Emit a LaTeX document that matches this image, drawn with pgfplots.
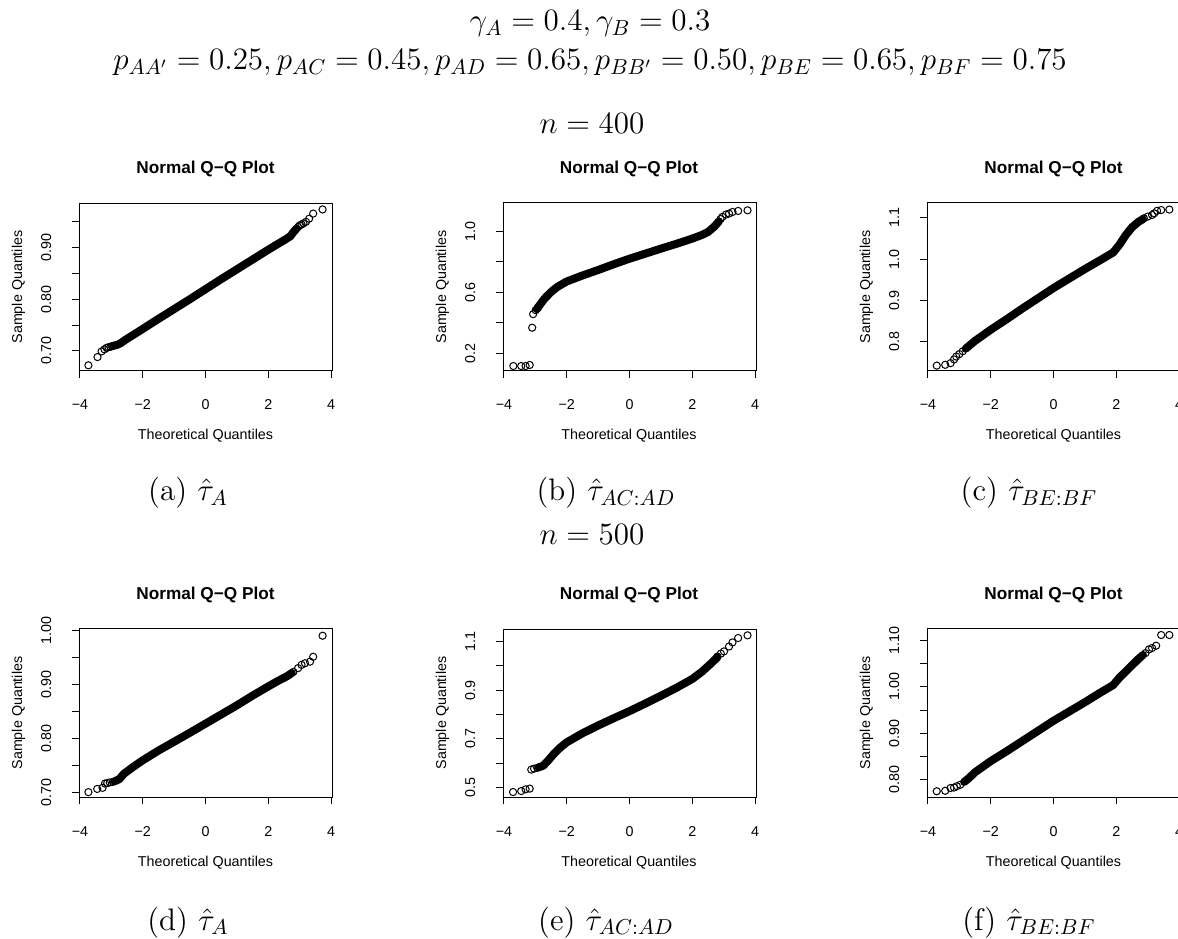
\documentclass[border=0pt]{standalone}
\usepackage{fontspec}
\usepackage{pgfplots}
\pgfplotsset{compat=1.18}
\newfontfamily\rfont{Liberation Sans}
\newcommand{\rsz}{\rfont\fontsize{7.15}{8.5}\selectfont}
\newcommand{\rtitle}{\rfont\bfseries\fontsize{8.6}{10}\selectfont}
\newcommand{\lsz}{\fontsize{14.4}{17}\selectfont}
\tikzset{ltx/.style={anchor=base, font=\lsz, scale=1.08, inner sep=1pt}}
\pgfplotsset{
  qq/.style={
    anchor=south west, scale only axis, width=126.5pt, height=84pt,
    xmin=-4.03, xmax=4.03,
    xtick={-4,-2,0,2,4}, xticklabels={−4,−2,0,2,4},
    tick pos=left, tick align=outside,
    major tick length=3.5pt,
    axis line style={line width=0.5pt},
    every tick/.append style={black, line width=0.5pt},
    tick label style={font=\rsz, inner sep=0pt},
    xticklabel style={anchor=base},
    xticklabel shift=16pt,
    yticklabel style={rotate=90, anchor=base},
    yticklabel shift=10.5pt,
  },
  band/.style={black, line width=4.0pt, line cap=round, line join=round, mark=none},
  tail/.style={only marks, mark=o, mark size=1.8pt, mark options={line width=0.5pt, black}},
}
\begin{document}
\begin{tikzpicture}
\useasboundingbox (0,0) rectangle (589pt,469pt);
% ---------- top text
\node[ltx] at (295pt,453.5pt) {$\gamma_A=0.4, \gamma_B=0.3$};
\node[ltx] at (295pt,434pt) {$p_{AA'}=0.25, p_{AC}=0.45, p_{AD}=0.65, p_{BB'}=0.50, p_{BE}=0.65, p_{BF}=0.75$};
\node[ltx] at (296pt,402pt) {$n=400$};
\node[ltx] at (296pt,196.5pt) {$n=500$};
% ---------- (a)
\begin{axis}[qq, at={(39.5pt,283.5pt)}, ymin=0.661, ymax=0.9865,
  ytick={0.70,0.75,0.80,0.85,0.90,0.95}, yticklabels={0.70,,0.80,,0.90,}]
\addplot[band] coordinates {(-2.95,0.7095) (-2.8,0.712) (-2.7,0.715) (-2.55,0.7215) (-2.3,0.731) (-2.0,0.7425) (-1.5,0.762) (-1.0,0.781) (-0.5,0.800) (0,0.8195) (0.5,0.839) (1.0,0.858) (1.5,0.877) (2.0,0.896) (2.3,0.907) (2.55,0.916) (2.7,0.922) (2.8,0.930) (2.9,0.937)};
\addplot[tail] coordinates {(-3.73,0.672) (-3.44,0.688) (-3.31,0.699) (-3.22,0.703) (-3.15,0.706) (-3.09,0.707) (-3.03,0.708) (-2.98,0.709) (2.95,0.940) (3.0,0.943) (3.06,0.945) (3.12,0.947) (3.2,0.950) (3.3,0.956) (3.43,0.966) (3.73,0.974)};
\end{axis}
% ---------- (b)
\begin{axis}[qq, at={(251.5pt,283.5pt)}, ymin=0.0845, ymax=1.185,
  ytick={0.2,0.4,0.6,0.8,1.0}, yticklabels={0.2,,0.6,,1.0}]
\addplot[band] coordinates {(-2.95,0.49) (-2.85,0.52) (-2.7,0.56) (-2.5,0.602) (-2.3,0.635) (-2.0,0.671) (-1.5,0.710) (-1.0,0.746) (-0.5,0.784) (0,0.820) (0.5,0.853) (1.0,0.886) (1.5,0.918) (2.0,0.952) (2.3,0.975) (2.5,0.995) (2.7,1.030) (2.85,1.065)};
\addplot[tail] coordinates {(-3.70,0.117) (-3.45,0.117) (-3.31,0.117) (-3.18,0.124) (-3.10,0.368) (-3.07,0.457) (-2.99,0.483) (-2.92,0.500) (2.9,1.08) (2.96,1.094) (3.07,1.109) (3.17,1.116) (3.28,1.126) (3.46,1.133) (3.76,1.137)};
\end{axis}
% ---------- (c)
\begin{axis}[qq, at={(463.5pt,283.5pt)}, ymin=0.729, ymax=1.136,
  ytick={0.8,0.9,1.0,1.1}, yticklabels={0.8,0.9,1.0,1.1}]
\addplot[band] coordinates {(-2.8,0.783) (-2.5,0.802) (-2.0,0.829) (-1.5,0.854) (-1.0,0.880) (-0.5,0.905) (0,0.930) (0.5,0.953) (1.0,0.976) (1.5,0.998) (1.9,1.016) (2.1,1.035) (2.3,1.058) (2.5,1.077) (2.7,1.090) (2.85,1.097)};
\addplot[tail] coordinates {(-3.72,0.742) (-3.45,0.744) (-3.28,0.748) (-3.17,0.757) (-3.10,0.764) (-3.0,0.770) (-2.89,0.777) (2.88,1.099) (3.0,1.103) (3.14,1.107) (3.21,1.111) (3.30,1.117) (3.43,1.119) (3.69,1.120)};
\end{axis}
% ---------- (d)
\begin{axis}[qq, at={(39.5pt,70.5pt)}, ymin=0.691, ymax=1.0025,
  ytick={0.70,0.75,0.80,0.85,0.90,0.95,1.00}, yticklabels={0.70,,0.80,,0.90,,1.00}]
\addplot[band] coordinates {(-2.9,0.720) (-2.75,0.724) (-2.6,0.734) (-2.3,0.747) (-2.0,0.759) (-1.5,0.777) (-1.0,0.7935) (-0.5,0.810) (0,0.827) (0.5,0.844) (1.0,0.861) (1.5,0.879) (2.0,0.896) (2.3,0.906) (2.6,0.915) (2.75,0.921)};
\addplot[tail] coordinates {(-3.73,0.700) (-3.45,0.706) (-3.28,0.708) (-3.2,0.716) (-3.13,0.717) (-3.05,0.718) (-2.95,0.719) (2.8,0.923) (2.95,0.930) (3.06,0.936) (3.17,0.939) (3.33,0.942) (3.43,0.951) (3.73,0.990)};
\end{axis}
% ---------- (e)
\begin{axis}[qq, at={(251.5pt,70.5pt)}, ymin=0.4616, ymax=1.151,
  ytick={0.5,0.6,0.7,0.8,0.9,1.0,1.1}, yticklabels={0.5,,0.7,,0.9,,1.1}]
\addplot[band] coordinates {(-2.9,0.583) (-2.75,0.590) (-2.6,0.610) (-2.4,0.640) (-2.2,0.665) (-2.0,0.686) (-1.5,0.723) (-1.0,0.755) (-0.5,0.785) (0,0.814) (0.5,0.845) (1.0,0.877) (1.5,0.910) (2.0,0.946) (2.3,0.975) (2.6,1.010) (2.8,1.035)};
\addplot[tail] coordinates {(-3.71,0.482) (-3.45,0.486) (-3.31,0.493) (-3.18,0.496) (-3.13,0.574) (-3.04,0.578) (-2.94,0.581) (2.8,1.038) (2.91,1.050) (3.01,1.059) (3.17,1.079) (3.28,1.096) (3.46,1.114) (3.76,1.125)};
\end{axis}
% ---------- (f)
\begin{axis}[qq, at={(463.5pt,70.5pt)}, ymin=0.7626, ymax=1.125,
  ytick={0.80,0.85,0.90,0.95,1.00,1.05,1.10}, yticklabels={0.80,,0.90,,1.00,,1.10}]
\addplot[band] coordinates {(-2.85,0.795) (-2.7,0.803) (-2.5,0.816) (-2.0,0.840) (-1.5,0.861) (-1.0,0.883) (-0.5,0.905) (0,0.927) (0.5,0.947) (1.0,0.967) (1.5,0.988) (1.9,1.004) (2.1,1.020) (2.4,1.040) (2.7,1.060) (2.85,1.069)};
\addplot[tail] coordinates {(-3.72,0.775) (-3.45,0.776) (-3.28,0.782) (-3.17,0.783) (-3.08,0.786) (-2.97,0.789) (2.93,1.073) (3.04,1.081) (3.14,1.084) (3.27,1.089) (3.43,1.112) (3.69,1.112)};
\end{axis}
% ---------- R texts
\foreach \xc in {102.75pt,314.5pt,526.75pt}{
  \node[anchor=base, font=\rtitle] at (\xc,382pt) {Normal Q−Q Plot};
  \node[anchor=base, font=\rtitle] at (\xc,169pt) {Normal Q−Q Plot};
  \node[anchor=base, font=\rsz] at (\xc,249pt) {Theoretical Quantiles};
  \node[anchor=base, font=\rsz] at (\xc,36pt) {Theoretical Quantiles};
}
\foreach \xc in {11pt,223pt,435pt}{
  \node[anchor=base, rotate=90, font=\rsz] at (\xc,325.5pt) {Sample Quantiles};
  \node[anchor=base, rotate=90, font=\rsz] at (\xc,112.5pt) {Sample Quantiles};
}
% ---------- captions
\node[ltx] at (94pt,218.5pt) {(a) $\hat{\tau}_A$};
\node[ltx] at (303pt,218.5pt) {(b) $\hat{\tau}_{AC:AD}$};
\node[ltx] at (514.5pt,218.5pt) {(c) $\hat{\tau}_{BE:BF}$};
\node[ltx] at (94pt,4pt) {(d) $\hat{\tau}_A$};
\node[ltx] at (303pt,4pt) {(e) $\hat{\tau}_{AC:AD}$};
\node[ltx] at (514.5pt,4pt) {(f) $\hat{\tau}_{BE:BF}$};
\end{tikzpicture}
\end{document}
